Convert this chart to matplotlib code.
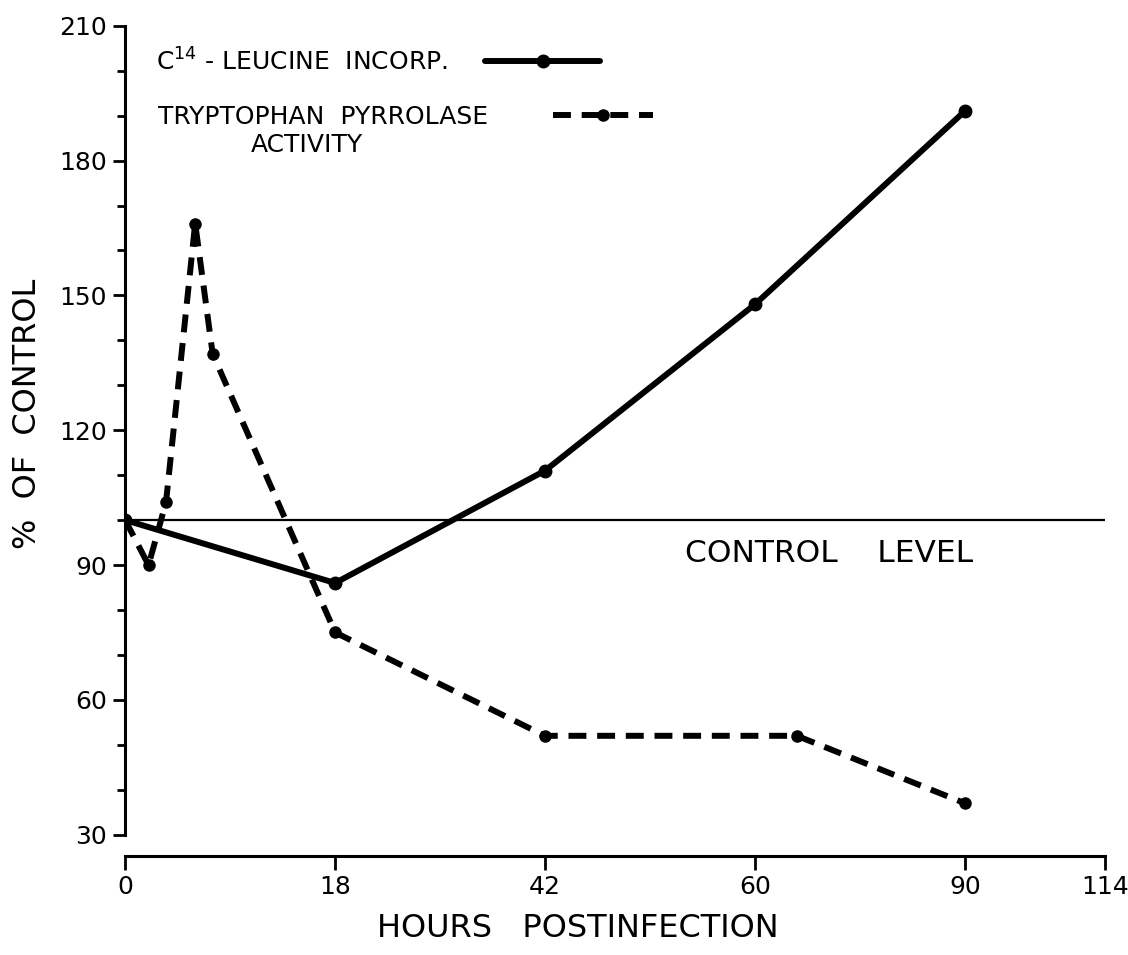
import matplotlib
matplotlib.use('Agg')
import matplotlib.pyplot as plt
import numpy as np

plt.rcParams['font.family'] = 'DejaVu Sans'

# hour ticks and where they sit along the (uneven) original axis
hour_ticks = [0, 18, 42, 60, 90, 114]
tick_pos = [0, 1, 2, 3, 4, 4.67]

# C14-leucine incorporation (% of control)
leu_hours = [0, 18, 42, 60, 90]
leu_vals = [100, 86, 111, 148, 191]

# tryptophan pyrrolase activity (% of control)
trp_hours = [0, 2, 3.5, 6, 7.5, 18, 42, 66, 90]
trp_vals = [100, 90, 104, 166, 137, 75, 52, 52, 37]

control_level = 100


def fwd(h):
    return np.interp(h, hour_ticks, tick_pos)


def inv(p):
    return np.interp(p, tick_pos, hour_ticks)


fig = plt.figure(figsize=(11.28, 9.55), dpi=100)
ax = fig.add_axes([0.111, 0.126, 0.869, 0.847])
ax.set_xscale('function', functions=(fwd, inv))

ax.axhline(control_level, color='black', lw=1.6, zorder=1)

leu_line, = ax.plot(leu_hours, leu_vals, color='black', lw=4.3, marker='o', ms=9,
                    solid_capstyle='round')
trp_line, = ax.plot(trp_hours, trp_vals, color='black', lw=4.3, ls=(0, (3, 1.8)),
                    marker='o', ms=8)

ax.text(54, 92.5, 'CONTROL    LEVEL', fontsize=22.5, va='center', ha='left')

ax.set_xlim(0, 114)
ax.set_ylim(30, 210)
ax.set_xticks(hour_ticks)
ax.set_xticklabels([str(h) for h in hour_ticks])
ax.set_yticks(np.arange(30, 211, 30))
ax.set_yticks(np.arange(30, 211, 10), minor=True)
ax.xaxis.set_minor_locator(matplotlib.ticker.NullLocator())

for s in ['top', 'right']:
    ax.spines[s].set_visible(False)
ax.spines['left'].set_linewidth(2.2)
ax.spines['bottom'].set_linewidth(2.2)
ax.spines['bottom'].set_position(('outward', 15))

ax.tick_params(axis='y', which='major', length=9, width=2, labelsize=18, pad=4)
ax.tick_params(axis='y', which='minor', length=6, width=2)
ax.tick_params(axis='x', which='major', length=10, width=2, labelsize=18, pad=4)

ax.set_xlabel('HOURS   POSTINFECTION', fontsize=23, labelpad=10)
ax.xaxis.label.set_x(0.462)
ax.set_ylabel('%  OF  CONTROL', fontsize=23, labelpad=12)
ax.yaxis.label.set_y(0.52)

# two legends so each text sits left with its sample right after it
leg1 = ax.legend([leu_line], ['C$^{14}$ - LEUCINE  INCORP.'], loc='upper left',
                 bbox_to_anchor=(0.021, 0.985), frameon=False, markerfirst=False,
                 fontsize=18, handlelength=4.6, handletextpad=1.5,
                 borderaxespad=0)
ax.add_artist(leg1)
ax.legend([trp_line], ['TRYPTOPHAN  PYRROLASE'], loc='upper left',
          bbox_to_anchor=(0.023, 0.915), frameon=False, markerfirst=False,
          fontsize=18, handlelength=4.0, handletextpad=2.6, borderaxespad=0)
ax.text(0.128, 0.868, 'ACTIVITY', transform=ax.transAxes, fontsize=18,
        ha='left', va='top')

fig.savefig('out.png', dpi=100)
